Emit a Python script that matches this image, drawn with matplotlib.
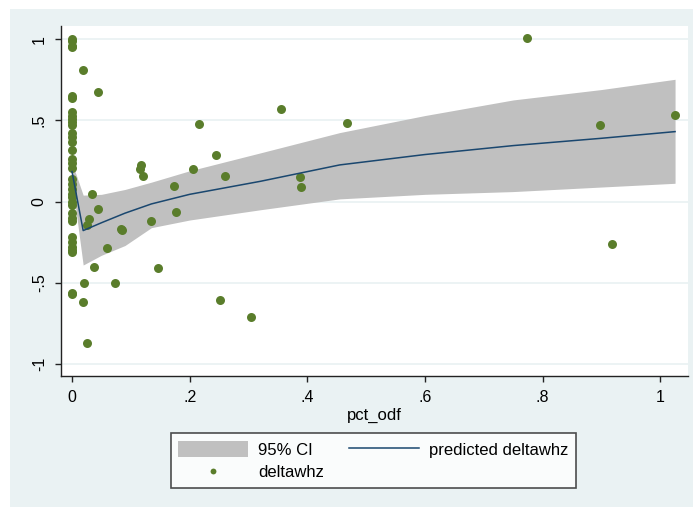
import matplotlib

matplotlib.use("Agg")
import matplotlib.pyplot as plt
from matplotlib.patches import Rectangle

# fitted curve and 95% CI
fit_x = [0.0, 0.019, 0.05, 0.09, 0.135, 0.2, 0.32, 0.455, 0.6, 0.75, 0.9, 1.025]
fit_y = [0.185, -0.178, -0.13, -0.071, -0.014, 0.045, 0.125, 0.226, 0.29, 0.345, 0.39, 0.431]
fit_hi = [0.24, 0.04, 0.045, 0.075, 0.12, 0.19, 0.3, 0.425, 0.53, 0.626, 0.69, 0.753]
fit_lo = [0.13, -0.39, -0.33, -0.27, -0.16, -0.113, -0.05, 0.017, 0.045, 0.062, 0.09, 0.113]

# observations: x = 0 column first, then the rest
zero_y = [1.0, 0.99, 0.96, 0.95, 0.65, 0.64, 0.55, 0.53, 0.51, 0.49, 0.47,
          0.42, 0.40, 0.37, 0.32, 0.26, 0.24, 0.21, 0.14, 0.11, 0.08, 0.05,
          0.03, 0.0, -0.02, -0.07, -0.10, -0.12, -0.22, -0.25, -0.28, -0.30,
          -0.31, -0.56, -0.57]
pts_x = [0.018, 0.044, 0.355, 0.216, 0.467, 0.244, 0.118, 0.115, 0.121,
         0.205, 0.26, 0.388, 0.389, 0.173, 0.034, 0.044, 0.029, 0.025,
         0.176, 0.134, 0.085, 0.083, 0.059, 0.037, 0.147, 0.021, 0.073,
         0.019, 0.2515, 0.305, 0.026, 0.774, 0.897, 1.025, 0.917]
pts_y = [0.81, 0.673, 0.572, 0.476, 0.486, 0.287, 0.226, 0.2, 0.16,
         0.201, 0.158, 0.154, 0.092, 0.097, 0.045, -0.043, -0.107, -0.145,
         -0.063, -0.117, -0.174, -0.17, -0.285, -0.40, -0.41, -0.498, -0.502,
         -0.62, -0.605, -0.711, -0.868, 1.006, 0.47, 0.532, -0.26]

x_ticks = [0, 0.2, 0.4, 0.6, 0.8, 1.0]
x_labels = ["0", ".2", ".4", ".6", ".8", "1"]
y_ticks = [-1, -0.5, 0, 0.5, 1]
y_labels = ["-1", "-.5", "0", ".5", "1"]

plt.rcParams["font.family"] = ["Liberation Sans", "DejaVu Sans"]
plt.rcParams["font.size"] = 12

region = "#eaf2f3"
green = "#5a7d2b"

fig = plt.figure(figsize=(6.93, 5.07), dpi=100, facecolor="white")
fig.patches.append(Rectangle((10 / 693, 0), 1, 1 - 9 / 507, transform=fig.transFigure,
                             facecolor=region, edgecolor="none", zorder=-10))
ax = fig.add_axes([60.7 / 693, 131 / 507, (688 - 60.7) / 693, 350 / 507])
ax.set_facecolor("white")

ax.fill_between(fit_x, fit_lo, fit_hi, color="#c0c0c0", lw=0, label="95% CI", zorder=2)
ax.scatter([0] * len(zero_y) + pts_x, zero_y + pts_y, s=42, color=green,
           lw=0, label="deltawhz", zorder=3)
ax.plot(fit_x, fit_y, color="#1a476f", lw=1.1, label="predicted deltawhz", zorder=4)

ax.set_xlim(-0.0192, 1.047)
ax.set_ylim(-1.073, 1.081)
ax.set_xticks(x_ticks)
ax.set_xticklabels(x_labels, fontsize=11.5)
ax.set_yticks(y_ticks)
ax.set_yticklabels(y_labels, rotation=90, va="center", fontsize=11.5)
ax.grid(axis="y", color=region, lw=1.3)
ax.set_axisbelow(True)
for s in ("top", "right"):
    ax.spines[s].set_visible(False)
for s in ("left", "bottom"):
    ax.spines[s].set_color("#222222")
    ax.spines[s].set_linewidth(1.0)
ax.tick_params(direction="out", length=4, width=1, color="#222222", pad=6)
ax.set_xlabel("pct_odf", labelpad=2)

h, l = ax.get_legend_handles_labels()
order = [l.index("95% CI"), l.index("deltawhz"), l.index("predicted deltawhz")]
leg = fig.legend([h[i] for i in order], [l[i] for i in order], ncol=2,
                 loc="center", bbox_to_anchor=(0.5387, 0.0917),
                 frameon=True, fancybox=False, edgecolor="#222222",
                 handlelength=4.2, handleheight=1.1, handletextpad=0.6,
                 columnspacing=1.5, labelspacing=0.35, markerscale=0.65,
                 borderpad=0.45, borderaxespad=0)
leg.get_frame().set_linewidth(1.2)

fig.savefig("out.png", dpi=100, facecolor=fig.get_facecolor())
